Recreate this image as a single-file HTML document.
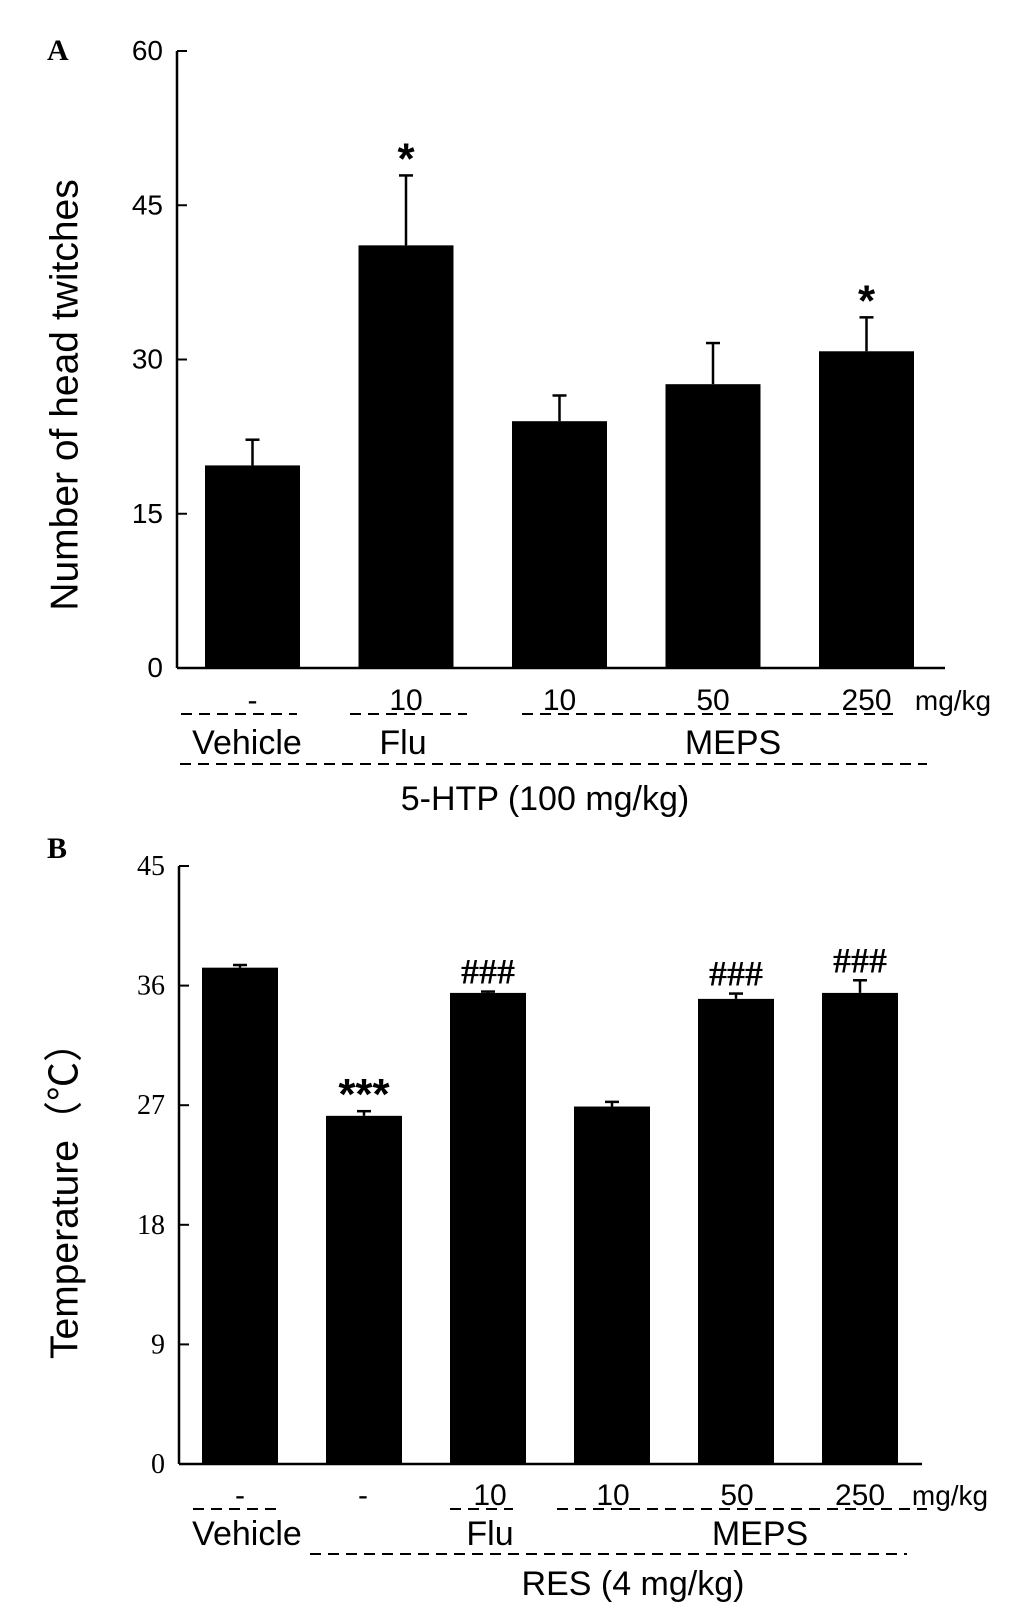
<!DOCTYPE html>
<html><head><meta charset="utf-8"><style>
html,body{margin:0;padding:0;background:#fff;}
svg{display:block;}
.t{font-family:"Liberation Sans",Arial,sans-serif;}
.s{font-family:"Liberation Serif","Times New Roman",serif;}
</style></head><body>
<svg id="fig" width="1033" height="1615" viewBox="0 0 1033 1615" xmlns="http://www.w3.org/2000/svg">
<rect width="1033" height="1615" fill="#fff"/>
<text x="47" y="60" class="s" font-size="30" font-weight="bold">A</text>
<text x="47" y="858" class="s" font-size="30" font-weight="bold">B</text>
<g id="chartA"></g>
<g id="chartB"></g>
</svg>
<script>
const aValues=[19.7,41.1,24.0,27.6,30.8];
const aErrors=[22.2,47.9,26.5,31.6,34.1];
const aTicks=[0,15,30,45,60];
const aMarks=["","*","","","*"];
const aDoses=["-","10","10","50","250"];
const bValues=[37.35,26.2,35.45,26.9,35.0,35.45];
const bErrors=[37.55,26.55,35.55,27.25,35.4,36.4];
const bTicks=[0,9,18,27,36,45];
const bMarks=["","***","###","","###","###"];
const bDoses=["-","-","10","10","50","250"];

const NS="http://www.w3.org/2000/svg";
function mk(parent,tag,attrs,text){const e=document.createElementNS(NS,tag);for(const k in attrs)e.setAttribute(k,attrs[k]);if(text!==undefined)e.textContent=text;parent.appendChild(e);return e;}

function drawChart(g,cfg){
  const y=v=>cfg.y0-(v-cfg.min)/(cfg.max-cfg.min)*(cfg.y0-cfg.y1);
  const ax=mk(g,'line',{x1:cfg.ax,y1:cfg.y1,x2:cfg.ax,y2:cfg.y0,stroke:'#000','stroke-width':2.5});
  
  
  const xa=mk(g,'line',{x1:cfg.ax,y1:cfg.y0,x2:cfg.axEnd,y2:cfg.y0,stroke:'#000','stroke-width':2.5});
  
  
  cfg.ticks.forEach(t=>{
    const l=mk(g,'line',{x1:cfg.ax,y1:y(t),x2:cfg.ax+10,y2:y(t),stroke:'#000','stroke-width':2});
    
    
    const tx=mk(g,'text',{x:cfg.ax-14,y:y(t)+9,'text-anchor':'end','font-size':cfg.tickFont,class:cfg.tickClass},String(t));
    
    
  });
  cfg.values.forEach((v,i)=>{
    const x=cfg.bx0+i*cfg.step, cx=x+cfg.bw/2;
    const e=cfg.errors[i];
    const el=mk(g,'line',{x1:cx,y1:y(v),x2:cx,y2:y(e),stroke:'#000','stroke-width':2.5});
    
    
    const ec=mk(g,'line',{x1:cx-7,y1:y(e),x2:cx+7,y2:y(e),stroke:'#000','stroke-width':2.5});
    
    
    const r=mk(g,'rect',{x:x,y:y(v),width:cfg.bw,height:cfg.y0-y(v),fill:'#000'});
    
    
    if(cfg.marks[i]){
      const star=cfg.marks[i].startsWith('*');
      const m=mk(g,'text',{x:cx,y:star?y(e)-2:y(e)-8,'text-anchor':'middle','font-size':star?44:36,class:star?'t':'s','font-weight':'bold'},cfg.marks[i]);
      
      
    }
    const d=mk(g,'text',{x:cfg.doseX?cfg.doseX[i]:cx,y:cfg.doseY,'text-anchor':'middle','font-size':30,class:'t'},cfg.doses[i]);
    
    
  });
}
const A=document.getElementById('chartA');
drawChart(A,{ax:177,axEnd:945,y0:668,y1:51,min:0,max:60,ticks:aTicks,tickFont:28,tickClass:'t',values:aValues,errors:aErrors,marks:aMarks,doses:aDoses,bx0:205,bw:95,step:153.5,doseY:710});
const B=document.getElementById('chartB');
drawChart(B,{ax:179,axEnd:922,y0:1464,y1:866,min:0,max:45,ticks:bTicks,tickFont:28,tickClass:'s',values:bValues,errors:bErrors,marks:bMarks,doses:bDoses,bx0:202,bw:76,step:124,doseY:1505,doseX:[240,363,490,613,737,860]});
</script>
<script>
const svg=document.getElementById('fig');
function add(tag,attrs,text,name){const e=document.createElementNS(NS,tag);for(const k in attrs)e.setAttribute(k,attrs[k]);if(text!==undefined)e.textContent=text;


svg.appendChild(e);return e;}
const dash={stroke:'#000','stroke-width':2,'stroke-dasharray':'11 7'};
add('text',{x:953,y:710,'text-anchor':'middle','font-size':28,class:'t'},'mg/kg','unit-label-a');
add('line',Object.assign({x1:181,y1:714,x2:297,y2:714},dash),undefined,'vehicle-dash-a');
add('line',Object.assign({x1:350,y1:714,x2:467,y2:714},dash),undefined,'flu-dash-a');
add('line',Object.assign({x1:522,y1:714,x2:900,y2:714},dash),undefined,'meps-dash-a');
add('text',{x:247,y:754,'text-anchor':'middle','font-size':34,class:'t'},'Vehicle','group-vehicle-a');
add('text',{x:403,y:754,'text-anchor':'middle','font-size':34,class:'t'},'Flu','group-flu-a');
add('text',{x:733,y:754,'text-anchor':'middle','font-size':34,class:'t'},'MEPS','group-meps-a');
add('line',Object.assign({x1:180,y1:764,x2:927,y2:764},dash),undefined,'treatment-dash-a');
add('text',{x:545,y:810,'text-anchor':'middle','font-size':34,class:'t'},'5-HTP (100 mg/kg)','treatment-label-a');
add('text',{x:67,y:395,'text-anchor':'middle','font-size':39,class:'t',transform:'rotate(-90 67 395)','dominant-baseline':'middle'},'Number of head twitches','y-axis-title-a');
add('text',{x:950,y:1505,'text-anchor':'middle','font-size':28,class:'t'},'mg/kg','unit-label-b');
add('line',Object.assign({x1:193,y1:1509,x2:283,y2:1509},dash),undefined,'vehicle-dash-b');
add('line',Object.assign({x1:450,y1:1509,x2:513,y2:1509},dash),undefined,'flu-dash-b');
add('line',Object.assign({x1:557,y1:1509,x2:927,y2:1509},dash),undefined,'meps-dash-b');
add('text',{x:247,y:1545,'text-anchor':'middle','font-size':34,class:'t'},'Vehicle','group-vehicle-b');
add('text',{x:490,y:1545,'text-anchor':'middle','font-size':34,class:'t'},'Flu','group-flu-b');
add('text',{x:760,y:1545,'text-anchor':'middle','font-size':34,class:'t'},'MEPS','group-meps-b');
add('line',Object.assign({x1:310,y1:1554,x2:907,y2:1554},dash),undefined,'treatment-dash-b');
add('text',{x:633,y:1595,'text-anchor':'middle','font-size':34,class:'t'},'RES (4 mg/kg)','treatment-label-b');
add('text',{x:67,y:1191,'text-anchor':'middle','font-size':39,class:'t',transform:'rotate(-90 67 1191)','dominant-baseline':'middle','font-family':'"Liberation Sans","Noto Sans CJK SC",sans-serif'},'Temperature（℃）','y-axis-title-b');
</script>
</body></html>
